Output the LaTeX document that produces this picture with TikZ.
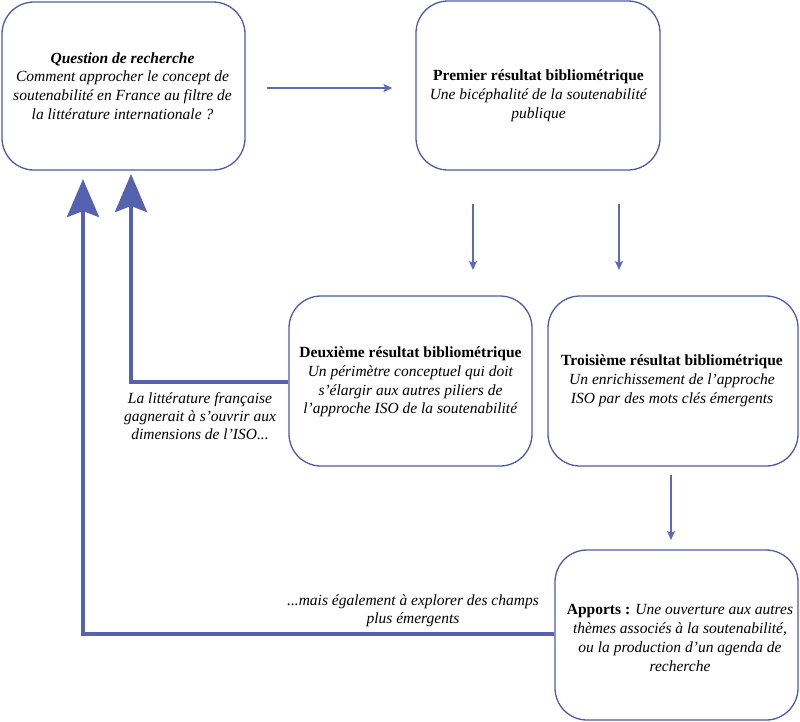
\documentclass[tikz,border=0pt]{standalone}
\usepackage{fontspec}
\setmainfont{Liberation Serif}
\usetikzlibrary{arrows.meta}
\definecolor{boxc}{RGB}{76,90,170}
\definecolor{arrc}{RGB}{84,98,176}
\definecolor{thinc}{RGB}{92,106,184}
\begin{document}
\begin{tikzpicture}[x=1pt,y=-1pt,
  box/.style={draw=boxc, line width=1.3pt, rounded corners=32pt, inner sep=0pt},
  txt/.style={align=center, inner sep=0pt, font=\fontsize{15.5}{18.8}\selectfont},
  lbl/.style={align=center, inner sep=0pt, font=\fontsize{15.5}{18}\selectfont\itshape},
  thinarrow/.style={draw=thinc, line width=1.3pt, -{Stealth[length=9pt,width=8pt,inset=2pt]}},
  thickarrow/.style={draw=arrc, line width=4pt, -{Stealth[length=38pt,width=32pt,inset=6pt]}}]
\useasboundingbox (0,0) rectangle (800,721);

% boxes
\node[box, minimum width=243pt, minimum height=168pt] (b1) at (123.5,86) {};
\node[box, minimum width=244pt, minimum height=169pt] (b2) at (538,85.5) {};
\node[box, minimum width=243pt, minimum height=170pt] (b3) at (410.5,381) {};
\node[box, minimum width=250pt, minimum height=170pt] (b4) at (673,381) {};
\node[box, minimum width=243pt, minimum height=170pt] (b5) at (676.5,635) {};

% texts
\node[txt] (t1) at (122.5,86) {\textbf{\textit{Question de recherche}}\\\textit{Comment approcher le concept de}\\\textit{soutenabilité en France au filtre de}\\\textit{la littérature internationale ?}};
\node[txt] (t2) at (538.5,96) {\textbf{Premier résultat bibliométrique}\\\textit{Une bicéphalité de la soutenabilité}\\\textit{publique}};
\node[txt] (t3) at (410.5,382) {\textbf{Deuxième résultat bibliométrique}\\\textit{Un périmètre conceptuel qui doit}\\\textit{s’élargir aux autres piliers de}\\\textit{l’approche ISO de la soutenabilité}};
\node[txt] (t4) at (672,381) {\textbf{Troisième résultat bibliométrique}\\\textit{Un enrichissement de l’approche}\\\textit{ISO par des mots clés émergents}};
\node[txt] (t5) at (680,638) {\textbf{Apports :} \textit{Une ouverture aux autres}\\\textit{thèmes associés à la soutenabilité,}\\\textit{ou la production d’un agenda de}\\\textit{recherche}};

% labels
\node[lbl] (l1) at (200,416) {La littérature française\\gagnerait à s’ouvrir aux\\dimensions de l’ISO...};
\node[lbl] (l2) at (413,611) {...mais également à explorer des champs\\plus émergents};

% thin arrows
\draw[thinarrow, shorten <=21pt, shorten >=23pt] (b1.east |- 0,88) -- (b2.west |- 0,88);
\coordinate (d1s) at (473,204);
\coordinate (d1e) at (473,270);
\coordinate (d2s) at (619,204);
\coordinate (d2e) at (619,270);
\coordinate (d3s) at (671,475);
\coordinate (d3e) at (671,540);
\draw[thinarrow] (d1s) -- (d1e);
\draw[thinarrow] (d2s) -- (d2e);
\draw[thinarrow] (d3s) -- (d3e);

% thick feedback arrows
\coordinate (ta) at (83,179);
\coordinate (tb) at (131,174);
\draw[thickarrow] (b5.west |- 0,634) -| (ta);
\draw[thickarrow] (b3.west |- 0,382) -| (tb);
\end{tikzpicture}
\end{document}
